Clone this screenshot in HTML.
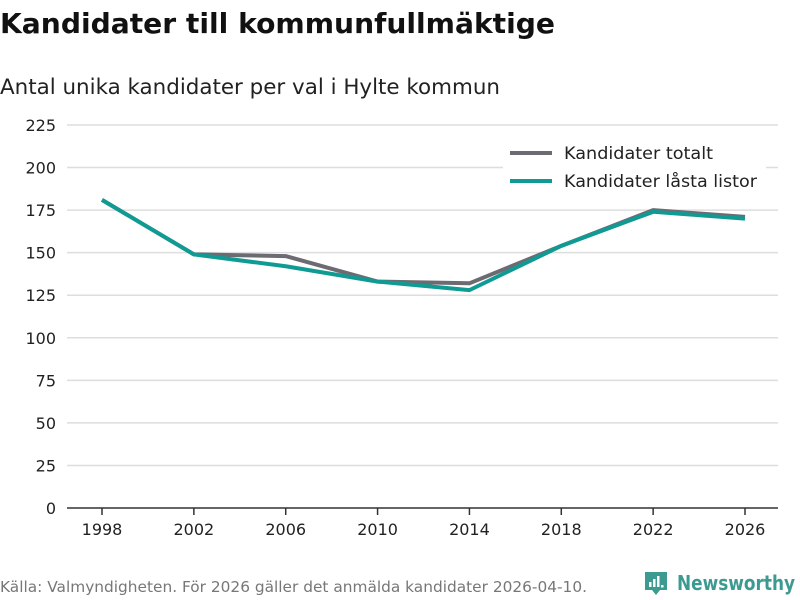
<!DOCTYPE html>
<html><head><meta charset="utf-8"><style>
body{margin:0;background:#fff;font-family:"DejaVu Sans","Liberation Sans",sans-serif;}
#wrap{position:relative;width:800px;height:600px;overflow:hidden;}
</style></head><body>
<div id="wrap">
<svg id="chart" width="800" height="600">
<text x="0" y="33" font-size="28" font-weight="bold" fill="#111" textLength="555" lengthAdjust="spacingAndGlyphs">Kandidater till kommunfullmäktige</text>
<text x="0" y="94" font-size="21.4" fill="#222" textLength="500" lengthAdjust="spacingAndGlyphs">Antal unika kandidater per val i Hylte kommun</text>
<g id="grid"></g><g id="xaxis"></g><g id="lines"></g>
<g>
<rect x="503" y="138" width="263" height="60" fill="#fff"/>
<line x1="510" y1="153" x2="552" y2="153" stroke="#6d6b72" stroke-width="4"/>
<text x="564" y="159" font-size="17.3" fill="#222" textLength="149" lengthAdjust="spacingAndGlyphs">Kandidater totalt</text>
<line x1="510" y1="181" x2="552" y2="181" stroke="#0f9b94" stroke-width="4"/>
<text x="564" y="187" font-size="17.3" fill="#222" textLength="193" lengthAdjust="spacingAndGlyphs">Kandidater låsta listor</text>
</g>
<text x="0" y="592" font-size="15" fill="#777" textLength="587" lengthAdjust="spacingAndGlyphs">Källa: Valmyndigheten. För 2026 gäller det anmälda kandidater 2026-04-10.</text>
<g>
<path d="M645 572h22v18h-7l-4 5-4-5h-7z" fill="#3d9a90"/>
<rect x="649" y="582" width="2.5" height="5" fill="#fff"/><rect x="653" y="579" width="2.5" height="8" fill="#fff"/><rect x="657" y="576" width="2.5" height="11" fill="#fff"/><rect x="661" y="585" width="2.5" height="2.5" fill="#fff"/>
<text x="677" y="590" font-size="20" font-weight="bold" fill="#3d9a90" textLength="118" lengthAdjust="spacingAndGlyphs">Newsworthy</text>
</g>
</svg>
</div>
<script>
const years=[1998,2002,2006,2010,2014,2018,2022,2026];
const totalt=[181,149,148,133,132,154,175,171];
const lasta=[181,149,142,133,128,154,174,170];
const yTicks=[0,25,50,75,100,125,150,175,200,225];
const NS="http://www.w3.org/2000/svg";
const x=v=>102+(v-1998)/28*643;
const y=v=>508-v/225*383;
function mk(tag,attrs,parent){const e=document.createElementNS(NS,tag);for(const k in attrs)e.setAttribute(k,attrs[k]);parent.appendChild(e);return e;}
const grid=document.getElementById('grid');
yTicks.forEach(t=>{
 if(t>0){const l=mk('line',{x1:67,x2:778,y1:y(t),y2:y(t),stroke:'#ddd','stroke-width':1.5},grid);
 
 }
 const tx=mk('text',{x:56,y:y(t)+6,'font-size':16,fill:'#222','text-anchor':'end'},grid);tx.textContent=t;
 
 
});
const xa=document.getElementById('xaxis');
const ax=mk('line',{x1:67,x2:778,y1:508,y2:508,stroke:'#333','stroke-width':1.5},xa);


years.forEach(v=>{
 const tk=mk('line',{x1:x(v),x2:x(v),y1:508,y2:515,stroke:'#333','stroke-width':1.5},xa);
 
 
 const tx=mk('text',{x:x(v),y:535,'font-size':16,fill:'#222','text-anchor':'middle'},xa);tx.textContent=v;
 
 
});
const lg=document.getElementById('lines');
[[totalt,'#6d6b72','line-totalt'],[lasta,'#0f9b94','line-lasta']].forEach(([d,c,n])=>{
 const p=mk('polyline',{points:d.map((v,i)=>x(years[i])+','+y(v)).join(' '),fill:'none',stroke:c,'stroke-width':4,'stroke-linejoin':'round'},lg);
 
 
});
</script>
</body></html>
